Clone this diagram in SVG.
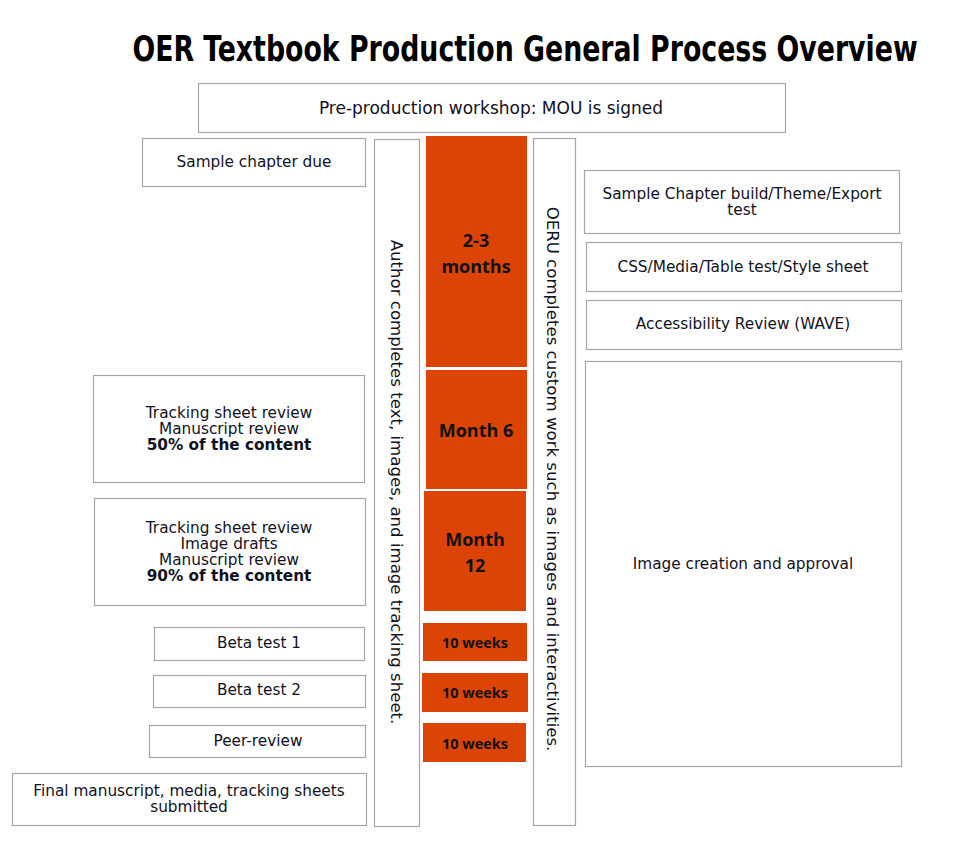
<svg xmlns="http://www.w3.org/2000/svg" width="962" height="854" viewBox="0 0 962 854">
<style>
.box{fill:#fff;stroke:#a6a6a6;stroke-width:1.2}
.bar{fill:#dc4405}
.t{font-family:"DejaVu Sans","Verdana",sans-serif;font-size:15.3px;fill:#111122;text-anchor:middle}
.b{font-weight:bold}
.v{font-size:16.6px}
.o{font-family:"Open Sans","Noto Sans",sans-serif;font-weight:bold;fill:#111;text-anchor:middle}
.title{font-family:"DejaVu Sans Condensed","DejaVu Sans",sans-serif;font-weight:bold;font-size:36px;fill:#000;text-anchor:middle}
</style>
<rect width="962" height="854" fill="#fff"/>
<text class="title" transform="translate(525 61) scale(0.827 1)" x="0" y="0">OER Textbook Production General Process Overview</text>

<g id="preprod"><rect class="box" x="198.5" y="83.5" width="587" height="49"/><text class="t" x="491" y="114" style="font-size:17px">Pre-production workshop: MOU is signed</text></g>

<g id="sample-due"><rect class="box" x="142.5" y="138.5" width="223" height="48"/><text class="t" x="254" y="167">Sample chapter due</text></g>

<g id="author"><rect class="box" x="374.5" y="139.5" width="45" height="687"/><text class="t v" transform="translate(397 482) rotate(90)" y="6" x="0">Author completes text, images, and image tracking sheet.</text></g>

<g id="m23"><rect class="bar" x="426" y="136" width="101" height="231"/><text class="o" x="476" y="247" font-size="18">2-3</text><text class="o" x="476" y="273" font-size="18">months</text></g>
<g id="m6"><rect class="bar" x="426" y="370" width="101" height="119"/><text class="o" x="476" y="437" font-size="18">Month 6</text></g>
<g id="m12"><rect class="bar" x="424" y="491" width="102" height="120"/><text class="o" x="475" y="546" font-size="18">Month</text><text class="o" x="475" y="572" font-size="18">12</text></g>
<g id="w1"><rect class="bar" x="423" y="623" width="104" height="38"/><text class="o" x="475" y="648" font-size="14.5">10 weeks</text></g>
<g id="w2"><rect class="bar" x="422" y="673" width="106" height="39"/><text class="o" x="475" y="698" font-size="14.5">10 weeks</text></g>
<g id="w3"><rect class="bar" x="423" y="723" width="103" height="39"/><text class="o" x="475" y="749" font-size="14.5">10 weeks</text></g>

<g id="oeru"><rect class="box" x="533.5" y="138.5" width="42" height="687"/><text class="t v" transform="translate(553 479) rotate(90)" y="6" x="0">OERU completes custom work such as images and interactivities.</text></g>

<g id="build"><rect class="box" x="584.5" y="170.5" width="315" height="63"/><text class="t" x="742" y="199">Sample Chapter build/Theme/Export</text><text class="t" x="742" y="215">test</text></g>
<g id="css"><rect class="box" x="586.5" y="242.5" width="315" height="49"/><text class="t" x="743" y="272">CSS/Media/Table test/Style sheet</text></g>
<g id="a11y"><rect class="box" x="586.5" y="300.5" width="315" height="49"/><text class="t" x="743" y="329">Accessibility Review (WAVE)</text></g>
<g id="images"><rect class="box" x="585.5" y="361.5" width="316" height="405"/><text class="t" x="743" y="569">Image creation and approval</text></g>

<g id="review50"><rect class="box" x="93.5" y="375.5" width="271" height="107"/><text class="t" x="229" y="418">Tracking sheet review</text><text class="t" x="229" y="434">Manuscript review</text><text class="t b" x="229" y="450">50% of the content</text></g>
<g id="review90"><rect class="box" x="94.5" y="498.5" width="271" height="107"/><text class="t" x="229" y="533">Tracking sheet review</text><text class="t" x="229" y="549">Image drafts</text><text class="t" x="229" y="565">Manuscript review</text><text class="t b" x="229" y="581">90% of the content</text></g>
<g id="beta1"><rect class="box" x="154.5" y="627.5" width="210" height="33"/><text class="t" x="259" y="648">Beta test 1</text></g>
<g id="beta2"><rect class="box" x="153.5" y="675.5" width="212" height="32"/><text class="t" x="259" y="695">Beta test 2</text></g>
<g id="peer"><rect class="box" x="149.5" y="725.5" width="216" height="32"/><text class="t" x="258" y="746">Peer-review</text></g>
<g id="final"><rect class="box" x="12.5" y="773.5" width="354" height="52"/><text class="t" x="189" y="796">Final manuscript, media, tracking sheets</text><text class="t" x="189" y="812">submitted</text></g>
<g id="connectors"></g>
</svg>
